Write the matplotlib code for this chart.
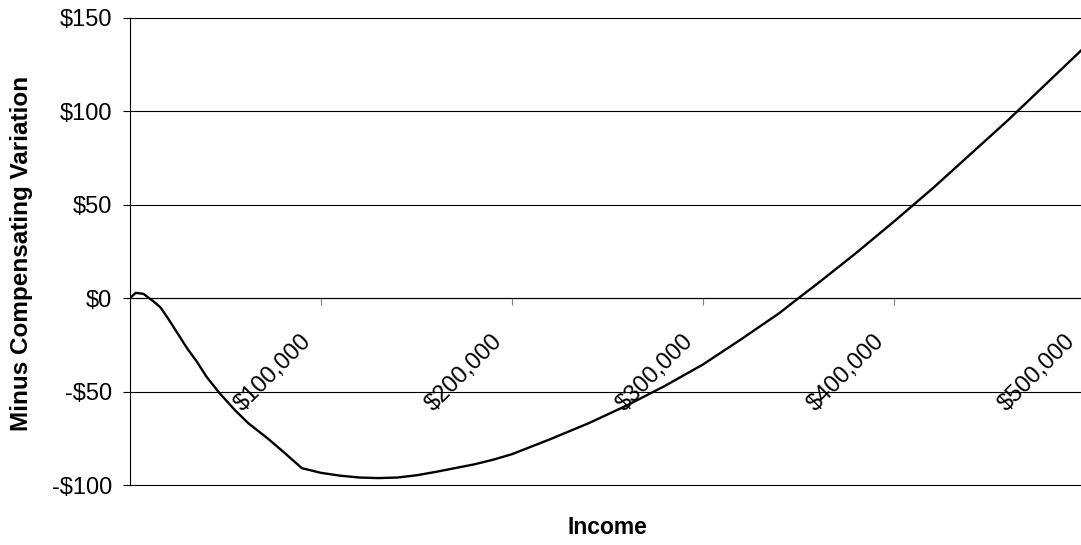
import matplotlib
matplotlib.use("Agg")
import matplotlib.pyplot as plt
from matplotlib.ticker import FuncFormatter
from matplotlib.transforms import ScaledTranslation

plt.rcParams['font.family'] = ['Liberation Sans', 'DejaVu Sans']

# income (dollars) and minus compensating variation (dollars)
income = [0, 3000, 7000, 12000, 16000, 20000, 25000, 30000, 35000, 40000,
          47000, 55000, 62000, 72000, 80000, 90000, 100000, 110000, 120000,
          130000, 140000, 150000, 160000, 170000, 180000, 190000, 200000,
          220000, 240000, 260000, 280000, 300000, 320000, 340000, 350000,
          360000, 380000, 400000, 420000, 440000, 460000, 480000, 500000]
minus_cv = [0, 2.8, 2.3, -1.5, -5, -11, -19, -27, -34, -42,
            -51, -60, -67, -75, -82, -91, -93.5, -95, -96,
            -96.3, -96, -94.8, -93, -91, -89, -86.5, -83.5,
            -75.5, -67, -57.5, -47, -35.5, -22, -8, 0,
            7.8, 24, 41, 58.5, 77, 95.5, 115, 134.5]

yticks = [-100, -50, 0, 50, 100, 150]
xticks = [100000, 200000, 300000, 400000, 500000]

fig = plt.figure(figsize=(10.81, 5.45), dpi=100)
ax = fig.add_axes([130 / 1081, 1 - 485 / 545, 955 / 1081, 467.2 / 545])

ax.plot(income, minus_cv, color='black', lw=1.7, solid_joinstyle='round')

ax.set_xlim(0, 500000)
ax.set_ylim(-100, 150)
ax.set_yticks(yticks)
ax.set_xticks(xticks)
ax.yaxis.set_major_formatter(FuncFormatter(lambda v, p: ('-$%d' % -v) if v < 0 else '$%d' % v))
ax.xaxis.set_major_formatter(FuncFormatter(lambda v, p: '${:,.0f}'.format(v)))

for y in yticks:
    ax.axhline(y, color='black', lw=0.8, zorder=0, clip_on=False)

ax.spines['top'].set_visible(False)
ax.spines['right'].set_visible(False)
ax.spines['bottom'].set_position(('data', 0))
ax.spines['bottom'].set_linewidth(0.8)
ax.spines['left'].set_linewidth(0.8)

ax.tick_params(axis='y', direction='out', length=5, width=0.8, pad=8,
               labelsize=17, color='black')
ax.tick_params(axis='x', direction='out', length=5, width=0.8, pad=18,
               labelsize=17, color='gray')

shift = ScaledTranslation(-5 / 100, 0, fig.dpi_scale_trans)
for lab in ax.get_xticklabels():
    lab.set_rotation(45)
    lab.set_ha('right')
    lab.set_va('top')
    lab.set_transform(lab.get_transform() + shift)

fig.text(22 / 1081, 1 - 253 / 545, 'Minus Compensating Variation', rotation=90,
         ha='center', va='center', fontsize=17.5, fontweight='bold')
fig.text(607 / 1081, 1 - 528 / 545, 'Income', ha='center', va='center',
         fontsize=16.5, fontweight='bold')

fig.savefig('out.png', dpi=100)
